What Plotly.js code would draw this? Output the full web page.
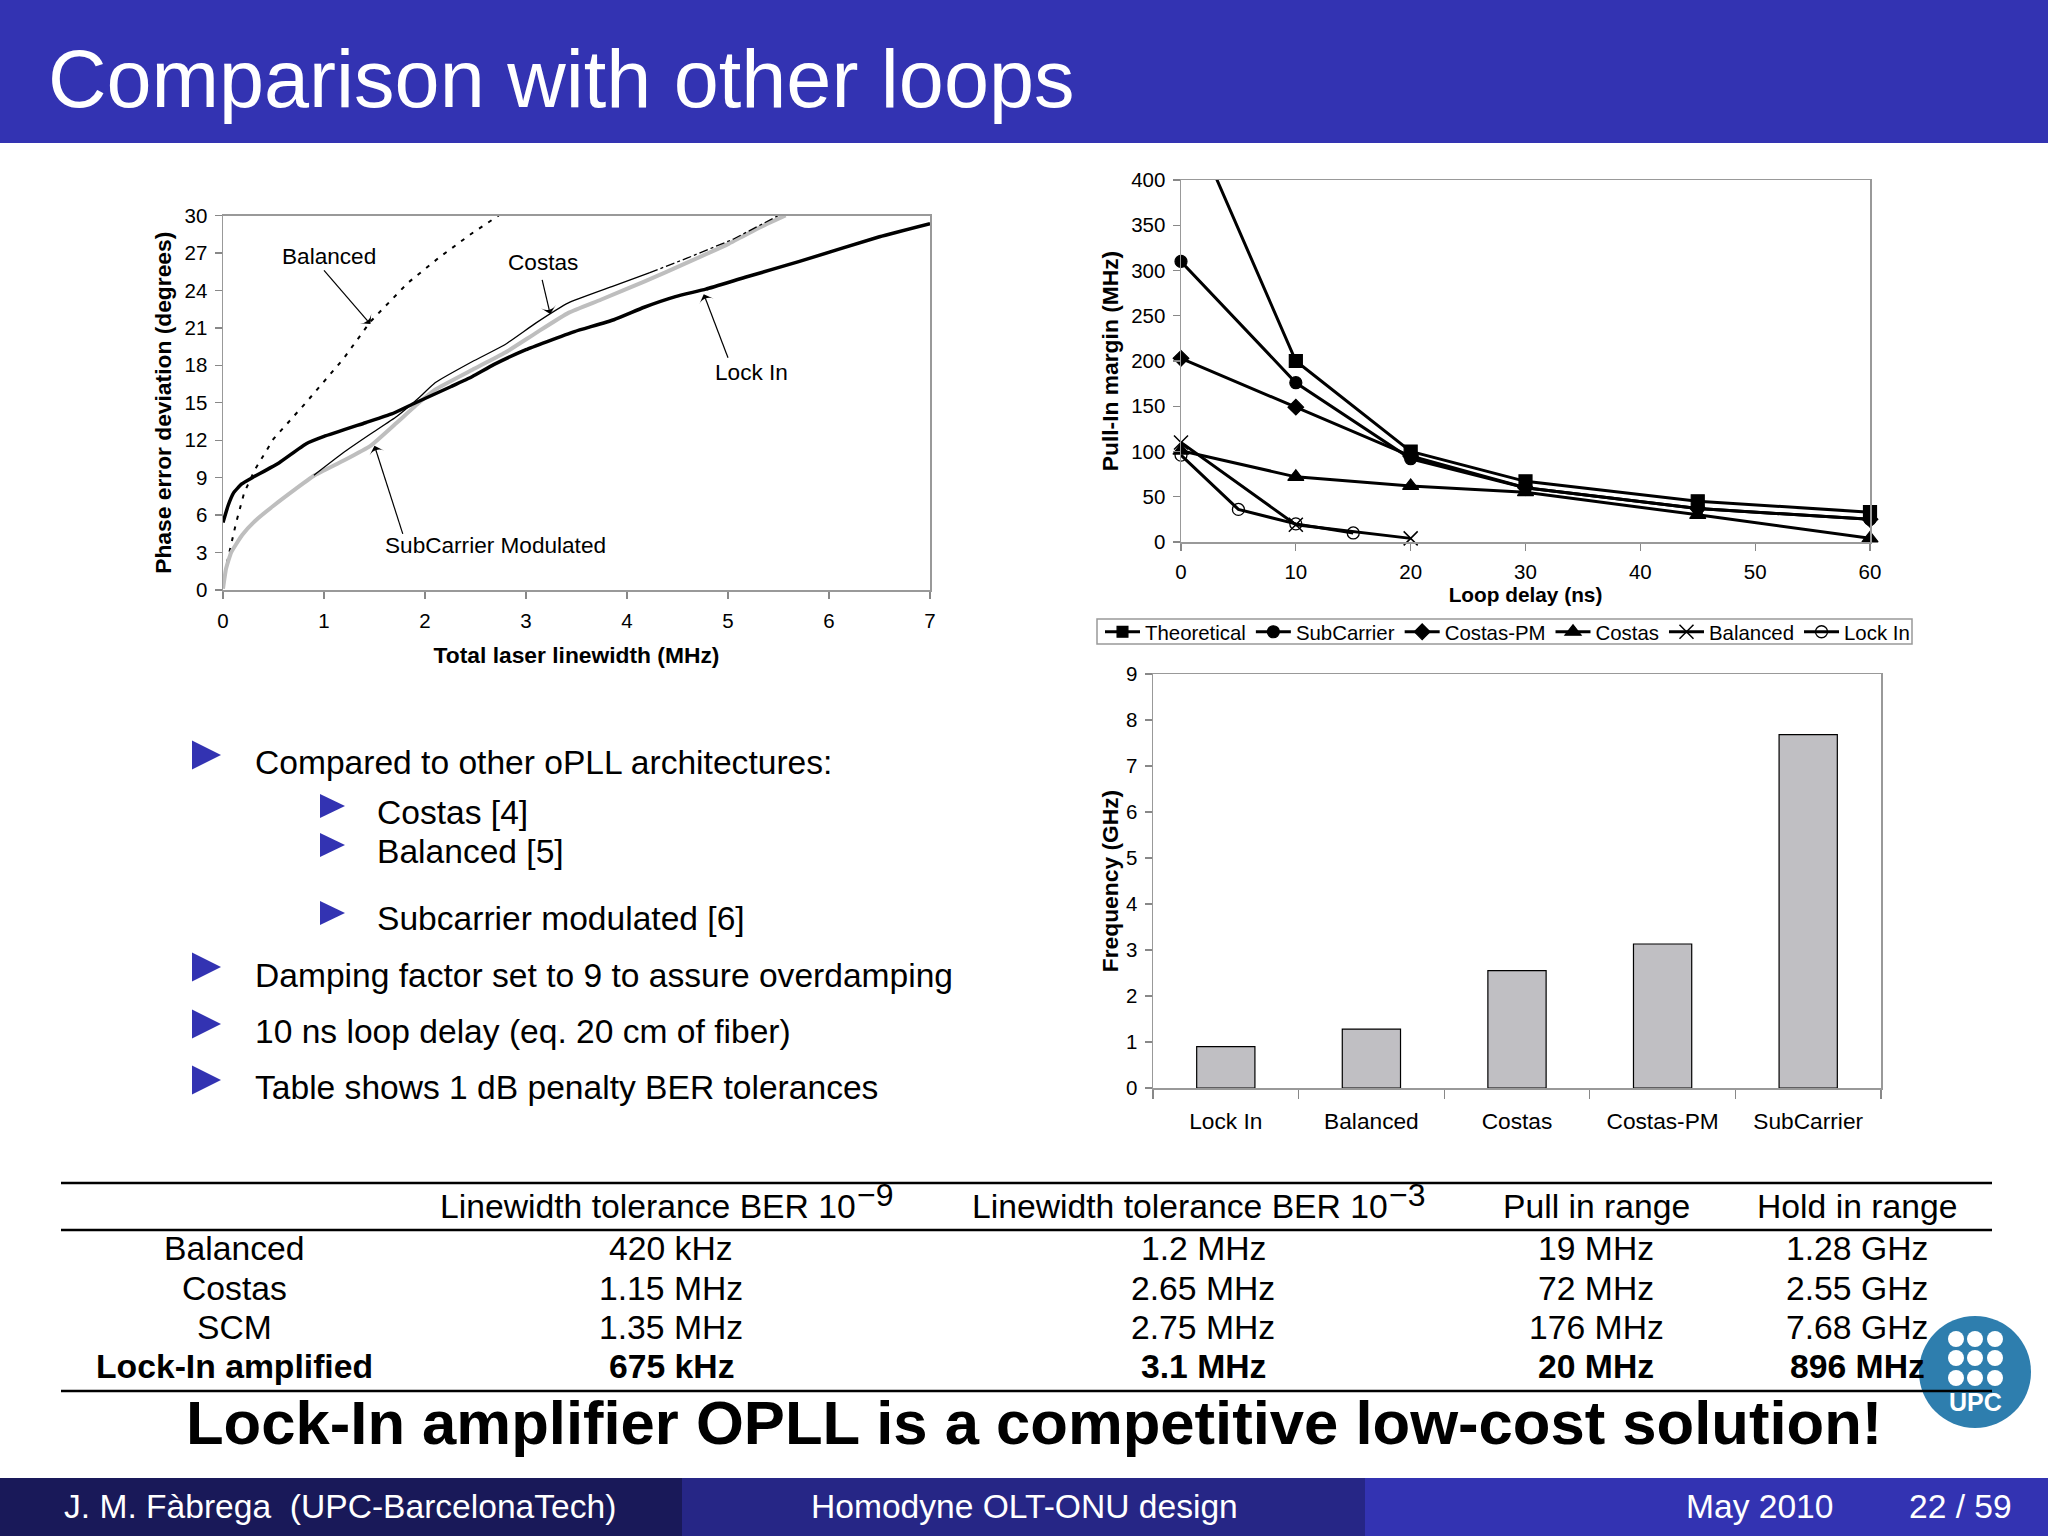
<!DOCTYPE html>
<html><head><meta charset="utf-8">
<script src="https://cdn.plot.ly/plotly-3.0.1.min.js"></script>
<style>html,body{margin:0;padding:0;background:#fff}#c{width:2048px;height:1536px}</style></head>
<body><div id="c"></div>
<script>
// ---- left chart: phase error deviation vs linewidth
const lockInX=[0,.05,.106,.186,.29,.557,.82,1,1.41,1.67,1.88,2.26,2.47,2.68,3,3.21,3.48,3.87,4.17,4.48,4.78,5.17,5.7,6.5,7];
const lockInY=[5.4,6.75,7.8,8.5,9,10.2,11.7,12.3,13.4,14.1,14.9,16.3,17.1,18.05,19.25,19.9,20.7,21.65,22.65,23.5,24.1,25.05,26.3,28.3,29.35];
const subX=[0,.03,.08,.19,.32,.5,.72,.9,1.19,1.46,1.72,1.94,2.1,2.47,2.79,3.1,3.42,3.74,4.17,4.59,5.01,5.33,5.57];
const subY=[.1,1.7,3,4.4,5.55,6.75,8.1,9.15,10.35,11.55,13.4,15,16.05,17.65,19,20.6,22.2,23.25,24.7,26.2,27.75,29.1,30];
const costasSolidX=[.9,1.19,1.46,1.72,1.94,2.1,2.47,2.79,3.1,3.42,3.85,4.22];
const costasSolidY=[9.2,11,12.5,13.9,15.4,16.6,18.3,19.65,21.4,23,24.3,25.4];
const costasDashX=[4.22,4.6,5.05,5.5];
const costasDashY=[25.4,26.6,28.1,30];
const balancedX=[.04,.13,.21,.32,.5,.82,1.19,1.46,1.83,2.15,2.47,2.73];
const balancedY=[2.2,5.4,7.8,9.7,12.1,15,18.5,21.5,24.6,26.7,28.6,30];
// ---- left chart: callout arrows [tail, tip]
const calloutBalancedX=[1,1.46];    const calloutBalancedY=[25.6,21.3];
const calloutCostasX=[3.16,3.24];   const calloutCostasY=[24.85,22.1];
const calloutLockInX=[5,4.76];      const calloutLockInY=[18.6,23.7];
const calloutSubX=[1.78,1.5];       const calloutSubY=[4.5,11.55];
// ---- top-right chart: pull-in margin vs loop delay
const theoX=[2.9,10,20,30,45,60];   const theoY=[407,200,100,67,45,33];
const scX=[0,10,20,30,45,60];       const scY=[310,176,92,60,37,25];
const cpmX=[0,10,20,30,45,60];      const cpmY=[203,149,95,60,37,25];
const cosX=[0,10,20,30,45,60];      const cosY=[101,72,62,55,30,4];
const balX=[0,10,20];               const balY=[110,19,4];
const liX=[0,5,10,15];              const liY=[96,36,20,10];
// ---- bottom-right chart: frequency bars
const barCats=['Lock In','Balanced','Costas','Costas-PM','SubCarrier'];
const barVals=[.9,1.28,2.55,3.13,7.68];
// ---- table
const tableHead=['','Linewidth tolerance BER 10','Linewidth tolerance BER 10','Pull in range','Hold in range'];
const tableExponents=['−9','−3'];
const rowBalanced=['Balanced','420 kHz','1.2 MHz','19 MHz','1.28 GHz'];
const rowCostas=['Costas','1.15 MHz','2.65 MHz','72 MHz','2.55 GHz'];
const rowSCM=['SCM','1.35 MHz','2.75 MHz','176 MHz','7.68 GHz'];
const rowLockIn=['Lock-In amplified','675 kHz','3.1 MHz','20 MHz','896 MHz'];
// ---- text
const bullets=['Compared to other oPLL architectures:','Costas [4]','Balanced [5]','Subcarrier modulated [6]','Damping factor set to 9 to assure overdamping','10 ns loop delay (eq. 20 cm of fiber)','Table shows 1 dB penalty BER tolerances'];
const bulletLevels=[0,1,1,1,0,0,0];

const FONT='"Liberation Sans", Arial, sans-serif';
const BLUE='#3333B2';
const X=p=>p/2048, Y=p=>1-p/1536;
const shapes=[], ann=[];
const rect=(x0,y0,x1,y1,c)=>shapes.push({type:'rect',xref:'paper',yref:'paper',x0:X(x0),x1:X(x1),y0:Y(y0),y1:Y(y1),fillcolor:c,line:{width:0},layer:'below'});
const txt=(t,x,y,size,o={})=>ann.push(Object.assign({text:t,xref:'paper',yref:'paper',x:X(x),y:Y(y),showarrow:false,xanchor:'center',yanchor:'middle',font:{family:FONT,size:size,color:'#000'}},o));
const tri=(x0,x1,yc,h)=>shapes.push({type:'path',xref:'paper',yref:'paper',path:`M${X(x0)},${Y(yc-h/2)} L${X(x1)},${Y(yc)} L${X(x0)},${Y(yc+h/2)} Z`,fillcolor:BLUE,line:{width:0},layer:'below'});

// header + footer
rect(0,0,2048,143,BLUE);
rect(0,1478,682,1536,'#191959');
rect(682,1478,1365,1536,'#262686');
rect(1365,1478,2048,1536,BLUE);
const wf=s=>({family:FONT,size:s,color:'#fff'});
txt('Comparison with other loops',46,79,81,{xanchor:'left',font:wf(81)});
txt('J. M. Fàbrega  (UPC-BarcelonaTech)',62,1506,33.6,{xanchor:'left',font:wf(33.6)});
txt('Homodyne OLT-ONU design',1024,1506,33.6,{font:wf(33.6)});
txt('May 2010',1759,1506,33.6,{font:wf(33.6)});
txt('22 / 59',1960,1506,33.6,{font:wf(33.6)});

// bullets
const bulletY=[762,812,851,918,975,1031,1087];
const triY=[755,806,845,913,967,1024,1080];
bullets.forEach((b,i)=>{
  const lvl=bulletLevels[i];
  txt(b,lvl?375:252.5,bulletY[i],33.6,{xanchor:'left'});
  if(lvl) tri(320,345,triY[i],24); else tri(192,221,triY[i],29);
});

// logo
shapes.push({type:'circle',xref:'paper',yref:'paper',x0:X(1919),x1:X(2031),y0:Y(1316),y1:Y(1428),fillcolor:'#2E7EAE',line:{width:0},layer:'below'});
[1339,1358,1378].forEach(cy=>[1956,1975,1995].forEach(cx=>{
  shapes.push({type:'circle',xref:'paper',yref:'paper',x0:X(cx-8),x1:X(cx+8),y0:Y(cy-8),y1:Y(cy+8),fillcolor:'#fff',line:{width:0},layer:'below'});
}));
txt('<b>UPC</b>',1975,1402,25,{font:wf(25)});

// table
[1183,1230,1391].forEach(y=>shapes.push({type:'line',xref:'paper',yref:'paper',x0:X(61),x1:X(1992),y0:Y(y),y1:Y(y),line:{color:'#000',width:2.5},layer:'above'}));
const colX=[234,648,1180,1596,1857], rowYs=[1206,1248,1288,1327,1366];
[tableHead,rowBalanced,rowCostas,rowSCM,rowLockIn].forEach((row,r)=>row.forEach((t,c)=>{
  if(!t) return;
  const cx=(r>0&&c===1)?671:(r>0&&c===2)?1203:colX[c];
  txt(r===4?'<b>'+t+'</b>':t,cx,rowYs[r],33.7);
}));
txt(tableExponents[0],875,1195,32);
txt(tableExponents[1],1407,1195,32);
txt('<b>Lock-In amplifier OPLL is a competitive low-cost solution!</b>',1034,1422,61.6);

// chart 1 labels
const lab=(t,x,y)=>ann.push({text:t,xref:'x',yref:'y',x:x,y:y,showarrow:false,font:{family:FONT,size:22.6,color:'#000'}});
lab('Balanced',1.05,26.7);lab('Costas',3.17,26.2);lab('Lock In',5.23,17.45);lab('SubCarrier Modulated',2.7,3.6);

const L=(x,y,w,c,extra={})=>Object.assign({x,y,xaxis:'x',yaxis:'y',type:'scatter',mode:'lines',showlegend:false,hoverinfo:'skip',line:{color:c,width:w,shape:'spline',smoothing:.4}},extra);
const C=(name,x,y)=>({name,x,y,xaxis:'x',yaxis:'y',type:'scatter',mode:'lines+markers',showlegend:false,hoverinfo:'skip',cliponaxis:false,
  line:{color:'#000',width:1.2},marker:{symbol:'arrow-wide',angleref:'previous',size:[0,11],color:'#000',opacity:1,line:{width:0}}});
const m=(name,x,y,sym,sz,extra)=>({name,x,y,xaxis:'x2',yaxis:'y2',type:'scatter',mode:'lines+markers',cliponaxis:false,
  line:{color:'#000',width:3},marker:Object.assign({symbol:sym,size:sz,color:'#000',opacity:1,line:{color:'#000',width:1.2}},extra||{})});

const traces=[
  L(balancedX,balancedY,2,'#000',{name:'Balanced',line:{color:'#000',width:2,dash:'4px,7px'}}),
  L(subX,subY,4,'#BEBEBE',{name:'SubCarrier Modulated'}),
  L(costasSolidX,costasSolidY,1.3,'#000',{name:'Costas'}),
  L(costasDashX,costasDashY,1.3,'#000',{name:'Costas (dash-dot)',line:{color:'#000',width:1.3,dash:'dashdot'}}),
  L(lockInX,lockInY,3.5,'#000',{name:'Lock In'}),
  C('Balanced callout',calloutBalancedX,calloutBalancedY),
  C('Costas callout',calloutCostasX,calloutCostasY),
  C('Lock In callout',calloutLockInX,calloutLockInY),
  C('SubCarrier callout',calloutSubX,calloutSubY),
  m('Theoretical',theoX,theoY,'square',[0,13,13,13,13,13]),
  m('SubCarrier',scX,scY,'circle',12),
  m('Costas-PM',cpmX,cpmY,'diamond',12),
  m('Costas',cosX,cosY,'triangle-up',14),
  m('Balanced',balX,balY,'x-thin-open',14,{line:{color:'#000',width:1.5}}),
  m('Lock In',liX,liY,'circle-open',12,{line:{color:'#000',width:1.3}}),
  {x:barCats,y:barVals,xaxis:'x3',yaxis:'y3',type:'bar',width:.4,showlegend:false,name:'Frequency',
   marker:{color:'#C0BFC3',line:{color:'#000',width:1.2}}}
];
const tf=s=>({family:FONT,size:s,color:'#000'});
const axt=(t,s,z)=>({text:t,standoff:s,font:{family:FONT,size:z||22.8,color:'#000',weight:'bold'}});
const base={showgrid:false,zeroline:false,showline:true,mirror:true,linecolor:'#999',linewidth:1.5,ticks:'outside',ticklen:7,tickcolor:'#888',tickwidth:1.3,tickfont:tf(20.5),automargin:false,ticklabelstandoff:3};
// legend box frame (drawn under the transparent legend)
shapes.push({type:'rect',xref:'paper',yref:'paper',x0:X(1097),x1:X(1912),y0:Y(619),y1:Y(644),fillcolor:'#fff',line:{color:'#999',width:1.5},layer:'below'});
const layout={
  width:2048,height:1536,margin:{l:0,r:0,t:0,b:0},paper_bgcolor:'#fff',plot_bgcolor:'#fff',font:{family:FONT,color:'#000'},
  shapes,annotations:ann,bargap:.6,
  xaxis:Object.assign({},base,{domain:[X(223),X(930)],range:[0,7],dtick:1,anchor:'y',ticklabelstandoff:5,title:axt('Total laser linewidth (MHz)',16)}),
  yaxis:Object.assign({},base,{domain:[Y(590),Y(215.5)],range:[0,30],dtick:3,anchor:'x',title:axt('Phase error deviation (degrees)',6)}),
  xaxis2:Object.assign({},base,{domain:[X(1181),X(1870)],range:[0,60],dtick:10,anchor:'y2',ticklabelstandoff:4,title:axt('Loop delay (ns)',1,20.8)}),
  yaxis2:Object.assign({},base,{domain:[Y(542),Y(180)],range:[0,400],dtick:50,anchor:'x2',title:axt('Pull-In margin (MHz)',6)}),
  xaxis3:Object.assign({},base,{domain:[X(1153),X(1881)],type:'category',range:[-.5,4.5],anchor:'y3',tickson:'boundaries',ticklen:9,tickfont:tf(22.7),ticklabelstandoff:12}),
  yaxis3:Object.assign({},base,{domain:[Y(1088),Y(674)],range:[0,9],dtick:1,anchor:'x3',title:axt('Frequency (GHz)',1)}),
  legend:{orientation:'h',x:X(1100),y:Y(612),xanchor:'left',yanchor:'top',bgcolor:'rgba(0,0,0,0)',borderwidth:0,font:{family:FONT,size:20.4,color:'#000'},itemwidth:35,tracegroupgap:0,traceorder:'normal'}
};
Plotly.newPlot('c',traces,layout,{displayModeBar:false,staticPlot:true});
</script></body></html>
